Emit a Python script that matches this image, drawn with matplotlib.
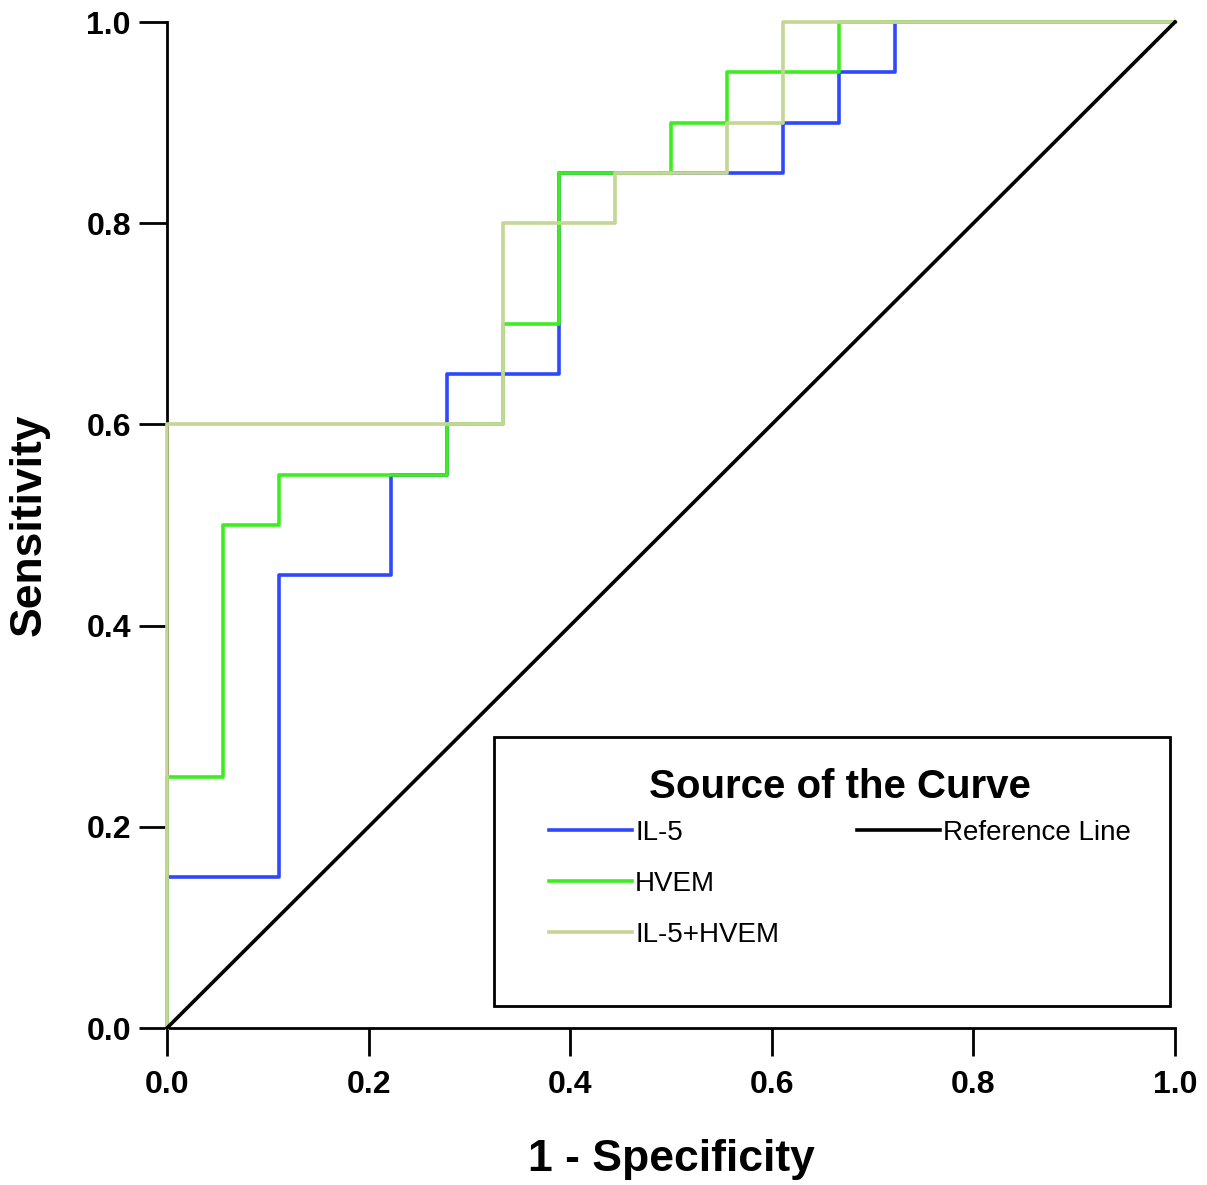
import matplotlib
matplotlib.use('Agg')
import matplotlib.pyplot as plt
from matplotlib.lines import Line2D
from matplotlib.patches import Rectangle

plt.rcParams['font.family'] = ['Liberation Sans', 'DejaVu Sans']

# ROC corner points (1 - specificity, sensitivity)
il5_fpr = [0.0, 0.0, 0.111, 0.111, 0.222, 0.222, 0.278, 0.278, 0.389, 0.389,
           0.611, 0.611, 0.667, 0.667, 0.722, 0.722, 1.0]
il5_tpr = [0.0, 0.15, 0.15, 0.45, 0.45, 0.55, 0.55, 0.65, 0.65, 0.85,
           0.85, 0.90, 0.90, 0.95, 0.95, 1.0, 1.0]

hvem_fpr = [0.0, 0.0, 0.056, 0.056, 0.111, 0.111, 0.278, 0.278, 0.333, 0.333,
            0.389, 0.389, 0.5, 0.5, 0.556, 0.556, 0.667, 0.667, 1.0]
hvem_tpr = [0.0, 0.25, 0.25, 0.50, 0.50, 0.55, 0.55, 0.60, 0.60, 0.70,
            0.70, 0.85, 0.85, 0.90, 0.90, 0.95, 0.95, 1.0, 1.0]

combo_fpr = [0.0, 0.0, 0.333, 0.333, 0.444, 0.444, 0.556, 0.556, 0.611, 0.611, 1.0]
combo_tpr = [0.0, 0.60, 0.60, 0.80, 0.80, 0.85, 0.85, 0.90, 0.90, 1.0, 1.0]

ref_x = [0.0, 1.0]
ref_y = [0.0, 1.0]

ticks = [0.0, 0.2, 0.4, 0.6, 0.8, 1.0]
tick_labels = ['0.0', '0.2', '0.4', '0.6', '0.8', '1.0']

W, H = 1207, 1185
fig = plt.figure(figsize=(W / 100, H / 100), dpi=100)
ax = fig.add_axes([167 / W, 157 / H, 1008 / W, 1006 / H])

lw = 2.6
l1, = ax.plot(il5_fpr, il5_tpr, color='#2d48ff', lw=lw, clip_on=False, zorder=3, label='IL-5')
l2, = ax.plot(hvem_fpr, hvem_tpr, color='#3ded1f', lw=lw, clip_on=False, zorder=3.1, label='HVEM')
l3, = ax.plot(combo_fpr, combo_tpr, color='#c4d594', lw=lw, clip_on=False, zorder=3.2, label='IL-5+HVEM')
l4, = ax.plot(ref_x, ref_y, color='black', lw=lw, clip_on=False, zorder=3.3, label='Reference Line')

ax.set_xlim(0, 1)
ax.set_ylim(0, 1)
ax.spines['top'].set_visible(False)
ax.spines['right'].set_visible(False)
ax.spines['left'].set_linewidth(2.0)
ax.spines['bottom'].set_linewidth(2.0)

ax.set_xticks(ticks)
ax.set_xticklabels(tick_labels)
ax.set_yticks(ticks)
ax.set_yticklabels(tick_labels)
ax.tick_params(axis='both', direction='out', length=20, width=2.0, labelsize=23)
ax.tick_params(axis='x', pad=10)
ax.tick_params(axis='y', pad=6)
for t in ax.get_xticklabels() + ax.get_yticklabels():
    t.set_fontweight('bold')

ax.set_xlabel('1 - Specificity', fontsize=32, fontweight='bold', labelpad=28)
ax.set_ylabel('Sensitivity', fontsize=32, fontweight='bold', labelpad=26)

# legend box
box = Rectangle((494 / W, 1 - 1006 / H), (1170 - 494) / W, (1006 - 737) / H,
                transform=fig.transFigure, fill=False, edgecolor='black', lw=2.0)
fig.patches.append(box)

blank = Line2D([], [], color='none')
leg = fig.legend(handles=[l1, l2, l3, l4, blank, blank],
                 labels=['IL-5', 'HVEM', 'IL-5+HVEM', 'Reference Line', '', ''],
                 ncol=2, loc='upper left', bbox_to_anchor=(549 / W, 1 - 768 / H),
                 frameon=False, fontsize=20, title='Source of the Curve',
                 handlelength=3.0, handletextpad=0.1, columnspacing=2.8,
                 labelspacing=0.9, borderpad=0, borderaxespad=0)
leg.get_title().set_fontsize(29)
leg.get_title().set_fontweight('bold')
leg._legend_box.sep = 10

fig.savefig('out.png', dpi=100)
